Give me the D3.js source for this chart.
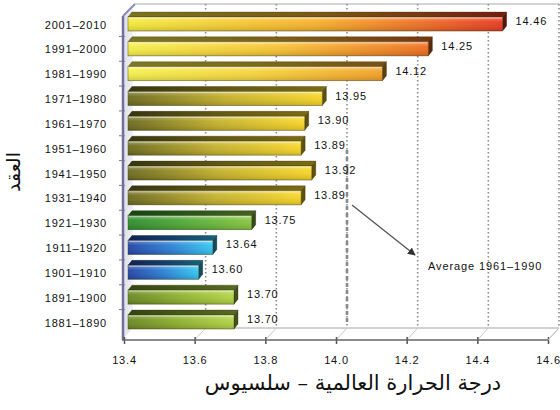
<!DOCTYPE html>
<html>
<head>
<meta charset="utf-8">
<script src="https://cdn.jsdelivr.net/npm/d3@7"></script>
<style>
  body { margin: 0; background: #fff; }
  text { font-family: "Liberation Sans", Arial, sans-serif; }
</style>
</head>
<body>
<div id="chart"></div>
<script>
// decades, top to bottom, and their mean global temperature (°C)
const decades = ["2001–2010", "1991–2000", "1981–1990", "1971–1980", "1961–1970",
  "1951–1960", "1941–1950", "1931–1940", "1921–1930", "1911–1920",
  "1901–1910", "1891–1900", "1881–1890"];
const temps = [14.46, 14.25, 14.12, 13.95, 13.90, 13.89, 13.92, 13.89, 13.75, 13.64, 13.60, 13.70, 13.70];
const xTicks = [13.4, 13.6, 13.8, 14.0, 14.2, 14.4, 14.6];
const averageValue = 14.0;
const averageLabel = "Average 1961–1990";
const xTitle = "درجة الحرارة العالمية – سلسيوس";
const yTitle = "العقد";

const width = 560, height = 410;
const DX = 11, DY = 12;      // depth of the back wall
const BX = 4, BY = 5;        // depth of each bar
const axisY = 340;

const svg = d3.select("#chart").append("svg")
  .attr("width", width)
  .attr("height", height);

const x = d3.scaleLinear().domain([13.4, 14.6]).range([124, 548]);
const y = d3.scaleBand().domain(decades).range([12.6, 335.4]);

// gradients for the bars
const gradSpecs = {
  hot:   ["#f3ea3c", "#f6b02a", "#e63a1f"],
  warm2: ["#f5ef48", "#f6c232", "#ee6c1e"],
  warm1: ["#f4ef4c", "#f6d43a", "#f2a028"],
  olive: ["#6c6a1e", "#c4b02a", "#f8d626"],
  green: ["#2c8c2e", "#55ac36", "#88c640"],
  blue:  ["#2244a6", "#2b7fd6", "#32c8f2"],
  lime:  ["#6a8822", "#8fb22e", "#b4d546"]
};
const colourOf = d3.scaleOrdinal()
  .domain(decades)
  .range(["hot", "warm2", "warm1", "olive", "olive", "olive", "olive", "olive",
          "green", "blue", "blue", "lime", "lime"]);

const defs = svg.append("defs");
Object.entries(gradSpecs).forEach(([k, c]) => {
  const g = defs.append("linearGradient").attr("id", "g-" + k)
    .attr("x1", "0%").attr("x2", "100%").attr("y1", "0%").attr("y2", "0%");
  g.append("stop").attr("offset", "0%").attr("stop-color", c[0]);
  g.append("stop").attr("offset", "50%").attr("stop-color", c[1]);
  g.append("stop").attr("offset", "100%").attr("stop-color", c[2]);
});
const shine = defs.append("linearGradient").attr("id", "shine")
  .attr("x1", "0%").attr("x2", "0%").attr("y1", "0%").attr("y2", "100%");
shine.append("stop").attr("offset", "0%").attr("stop-color", "#fff").attr("stop-opacity", 0.35);
shine.append("stop").attr("offset", "35%").attr("stop-color", "#fff").attr("stop-opacity", 0.05);
shine.append("stop").attr("offset", "100%").attr("stop-color", "#000").attr("stop-opacity", 0.15);
const wallGrad = defs.append("linearGradient").attr("id", "wall")
  .attr("x1", "0%").attr("x2", "100%");
wallGrad.append("stop").attr("offset", "0%").attr("stop-color", "#6c7098");
wallGrad.append("stop").attr("offset", "100%").attr("stop-color", "#c9cce0");

// back wall frame
const x0 = x.range()[0], x1 = x.range()[1];
svg.append("line")
  .attr("x1", x0 + DX).attr("x2", x1 + DX)
  .attr("y1", 4).attr("y2", 4)
  .attr("stroke", "#d4d4d4").attr("stroke-width", 2);
svg.append("line")
  .attr("x1", x0 + DX).attr("x2", x1 + DX)
  .attr("y1", axisY - DY).attr("y2", axisY - DY)
  .attr("stroke", "#d2d2d2").attr("stroke-width", 2);

// dotted grid on the back wall + floor diagonals
const grid = svg.append("g");
xTicks.slice(1).forEach(v => {
  grid.append("line")
    .attr("x1", x(v) + DX).attr("x2", x(v) + DX)
    .attr("y1", 4).attr("y2", axisY - DY)
    .attr("stroke", "#8c8c8c").attr("stroke-width", 1.6)
    .attr("stroke-dasharray", "1.6,2.4");
  grid.append("line")
    .attr("x1", x(v)).attr("x2", x(v) + DX)
    .attr("y1", axisY).attr("y2", axisY - DY)
    .attr("stroke", "#c8c8c8").attr("stroke-width", 1);
});
// the average line is drawn stronger
grid.append("line")
  .attr("x1", x(averageValue) + DX).attr("x2", x(averageValue) + DX)
  .attr("y1", 150).attr("y2", axisY - DY - 4)
  .attr("stroke", "#8a8a8a").attr("stroke-width", 2.6)
  .attr("stroke-dasharray", "4,3");

// left wall
svg.append("path")
  .attr("d", `M${x0 - 2},${16} L${x0 + DX - 2},${4} L${x0 + DX - 2},${axisY - DY} L${x0 - 2},${axisY} Z`)
  .attr("fill", "url(#wall)").attr("opacity", 0.25);
svg.append("line")
  .attr("x1", x0 - 1).attr("x2", x0 - 1)
  .attr("y1", 16).attr("y2", axisY)
  .attr("stroke", "#6e7298").attr("stroke-width", 2.5);
svg.append("line")
  .attr("x1", x0 - 1).attr("x2", x0 + DX)
  .attr("y1", 16).attr("y2", 4)
  .attr("stroke", "#8a8eb0").attr("stroke-width", 2);
// small row ticks on the left wall
svg.append("g").selectAll("line")
  .data(decades.slice(1))
  .join("line")
  .attr("x1", x0 - 5).attr("x2", x0 + 1)
  .attr("y1", d => y(d) - 1).attr("y2", d => y(d) - 1)
  .attr("stroke", "#7478a0").attr("stroke-width", 1);

// bars
const bars = svg.append("g").selectAll("g")
  .data(decades.map((d, i) => ({ decade: d, value: temps[i] })))
  .join("g");

const bx0 = d => x(13.4) + BX;
const bx1 = d => x(d.value) + BX;
const cy = d => y(d.decade) + y.bandwidth() / 2;

// top face
const topPath = d => `M${bx0(d)},${cy(d) - 8} L${bx1(d)},${cy(d) - 8} L${bx1(d) + BX},${cy(d) - 8 - BY} L${bx0(d) + BX},${cy(d) - 8 - BY} Z`;
bars.append("path")
  .attr("d", topPath)
  .attr("fill", d => `url(#g-${colourOf(d.decade)})`);
bars.append("path")
  .attr("d", topPath)
  .attr("fill", "#000").attr("fill-opacity", 0.5)
  .attr("stroke", "#3a3010").attr("stroke-opacity", 0.5).attr("stroke-width", 0.6);
// side face
const sidePath = d => `M${bx1(d)},${cy(d) - 8} L${bx1(d) + BX},${cy(d) - 8 - BY} L${bx1(d) + BX},${cy(d) + 6 - BY} L${bx1(d)},${cy(d) + 6} Z`;
bars.append("path")
  .attr("d", sidePath)
  .attr("fill", d => gradSpecs[colourOf(d.decade)][2]);
bars.append("path")
  .attr("d", sidePath)
  .attr("fill", "#000").attr("fill-opacity", 0.62)
  .attr("stroke", "#222").attr("stroke-opacity", 0.5).attr("stroke-width", 0.6);
// front face
bars.append("rect")
  .attr("x", bx0)
  .attr("y", d => cy(d) - 8)
  .attr("width", d => bx1(d) - bx0(d))
  .attr("height", 14)
  .attr("fill", d => `url(#g-${colourOf(d.decade)})`)
  .attr("stroke", "#3d3a18").attr("stroke-opacity", 0.55).attr("stroke-width", 0.8);
bars.append("rect")
  .attr("x", bx0)
  .attr("y", d => cy(d) - 8)
  .attr("width", d => bx1(d) - bx0(d))
  .attr("height", 14)
  .attr("fill", "url(#shine)");
bars.append("line")
  .attr("x1", d => bx0(d) + 1).attr("x2", d => bx1(d) - 1)
  .attr("y1", d => cy(d) - 7).attr("y2", d => cy(d) - 7)
  .attr("stroke", "#fff").attr("stroke-opacity", 0.45).attr("stroke-width", 1);

// value labels
bars.append("text")
  .attr("x", d => x(d.value) + 17)
  .attr("y", d => cy(d))
  .attr("font-size", 11)
  .attr("letter-spacing", 0.8)
  .attr("fill", "#111")
  .text(d => d.value.toFixed(2));

// x axis
const xAxis = svg.append("g")
  .attr("transform", `translate(0,${axisY})`)
  .call(d3.axisBottom(x).tickValues(xTicks).tickFormat(d3.format(".1f")).tickSize(4).tickPadding(12));
xAxis.select(".domain").remove();
xAxis.selectAll(".tick line").attr("y1", -3).attr("stroke", "#555").attr("stroke-width", 1.5);
xAxis.selectAll(".tick text")
  .attr("font-size", 11).attr("letter-spacing", 0.8)
  .attr("font-family", "Liberation Sans, Arial, sans-serif")
  .attr("fill", "#111");
svg.append("line")
  .attr("x1", x0 - 2).attr("x2", x1)
  .attr("y1", axisY).attr("y2", axisY)
  .attr("stroke", "#666").attr("stroke-width", 1.5);
svg.append("line")
  .attr("x1", x1).attr("x2", x1 + DX)
  .attr("y1", axisY).attr("y2", axisY - DY)
  .attr("stroke", "#c4c4c4").attr("stroke-width", 1);

// y axis labels
const yAxis = svg.append("g")
  .attr("transform", `translate(${x0 - 1},0)`)
  .call(d3.axisLeft(y).tickSize(0).tickPadding(16));
yAxis.select(".domain").remove();
yAxis.selectAll(".tick text")
  .attr("font-size", 11).attr("letter-spacing", 0.8)
  .attr("font-family", "Liberation Sans, Arial, sans-serif")
  .attr("fill", "#111");

// average annotation
defs.append("marker")
  .attr("id", "arrow")
  .attr("viewBox", "0 0 10 10")
  .attr("refX", 9).attr("refY", 5)
  .attr("markerWidth", 6).attr("markerHeight", 6)
  .attr("orient", "auto")
  .append("path").attr("d", "M0,0 L10,5 L0,10 Z").attr("fill", "#333");
svg.append("line")
  .attr("x1", x(averageValue) + 16).attr("y1", 205)
  .attr("x2", x(averageValue) + 79).attr("y2", 255)
  .attr("stroke", "#555").attr("stroke-width", 1.3)
  .attr("marker-end", "url(#arrow)");
svg.append("text")
  .attr("x", 428).attr("y", 270)
  .attr("font-size", 11).attr("letter-spacing", 0.9)
  .attr("fill", "#111")
  .text(averageLabel);

// axis titles
svg.append("text")
  .attr("x", 353).attr("y", 390)
  .attr("text-anchor", "middle")
  .attr("direction", "rtl")
  .style("font-family", "'DejaVu Serif', 'DejaVu Sans', serif")
  .attr("font-size", 21)
  .attr("fill", "#111")
  .text(xTitle);
svg.append("text")
  .attr("transform", "translate(20,172) rotate(-90)")
  .attr("text-anchor", "middle")
  .attr("direction", "rtl")
  .style("font-family", "'DejaVu Serif', 'DejaVu Sans', serif")
  .attr("font-size", 19)
  .attr("fill", "#111")
  .text(yTitle);
</script>
</body>
</html>
